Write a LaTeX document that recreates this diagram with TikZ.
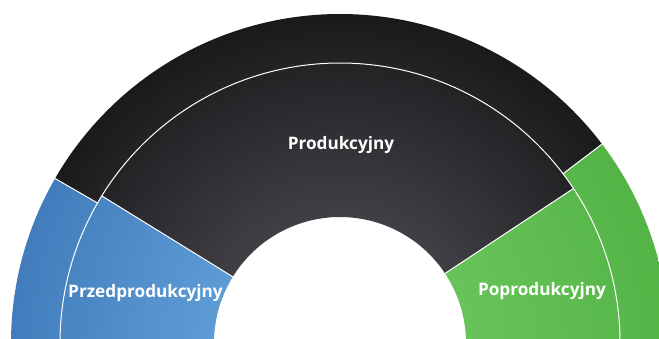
\documentclass[tikz,border=0pt]{standalone}
\usepackage{xcolor}
\usepackage{tikz}
\usepackage{fontspec}
\setmainfont{Open Sans}

\definecolor{blueIn}{RGB}{94,156,214}
\definecolor{blueOut}{RGB}{66,124,188}
\definecolor{blackIn}{RGB}{64,63,69}
\definecolor{blackOut}{RGB}{26,26,28}
\definecolor{greenIn}{RGB}{104,196,90}
\definecolor{greenOut}{RGB}{84,180,70}

% radius 25bp is the outer edge of the ring (329), 9.6bp the hole (126)
\pgfdeclareradialshading{bluering}{\pgfpoint{0bp}{0bp}}{color(0bp)=(blueIn); color(9.6bp)=(blueIn); color(25bp)=(blueOut); color(50bp)=(blueOut)}
\pgfdeclareradialshading{blackring}{\pgfpoint{0bp}{0bp}}{color(0bp)=(blackIn); color(9.6bp)=(blackIn); color(25bp)=(blackOut); color(50bp)=(blackOut)}
\pgfdeclareradialshading{greenring}{\pgfpoint{0bp}{0bp}}{color(0bp)=(greenIn); color(9.6bp)=(greenIn); color(25bp)=(greenOut); color(50bp)=(greenOut)}

\begin{document}
\begin{tikzpicture}[x=1pt,y=1pt,
    lbl/.style={font=\bfseries\fontsize{17.2}{18}\selectfont,text=white,anchor=base,inner sep=0pt},
    cut/.style={draw=white,line width=1pt}]
  \useasboundingbox (-340,5) rectangle (319,343);
  % ring segments: from/to/inner/outer/shading
  \foreach \from/\to/\rin/\rout/\shd in {150/182/280/329/bluering, 37.2/150/280/329/blackring, -2/37.2/280/329/greenring,
      148.3/182/126/280/bluering, 33.5/148.3/126/280/blackring, -2/33.5/126/280/greenring}
  {
    \begin{scope}
      \clip (\from:\rin) arc (\from:\to:\rin) -- (\to:\rout) arc (\to:\from:\rout) -- cycle;
      \shade[shading=\shd] (0,0) circle (329);
    \end{scope}
  }
  % white cuts
  \draw[cut] (-5:280) arc (-5:185:280);
  \draw[cut] (150:280) -- (150:329);
  \draw[cut] (37.2:280) -- (37.2:329);
  \draw[cut] (148.3:126) -- (148.3:280);
  \draw[cut] (33.5:126) -- (33.5:280);
  % labels
  \node[lbl] (prod) at (1,194) {Produkcyjny};
  \node[lbl] (przed) at (-194.5,46) {Przedprodukcyjny};
  \node[lbl] (poprod) at (202,48) {Poprodukcyjny};
\end{tikzpicture}
\end{document}
